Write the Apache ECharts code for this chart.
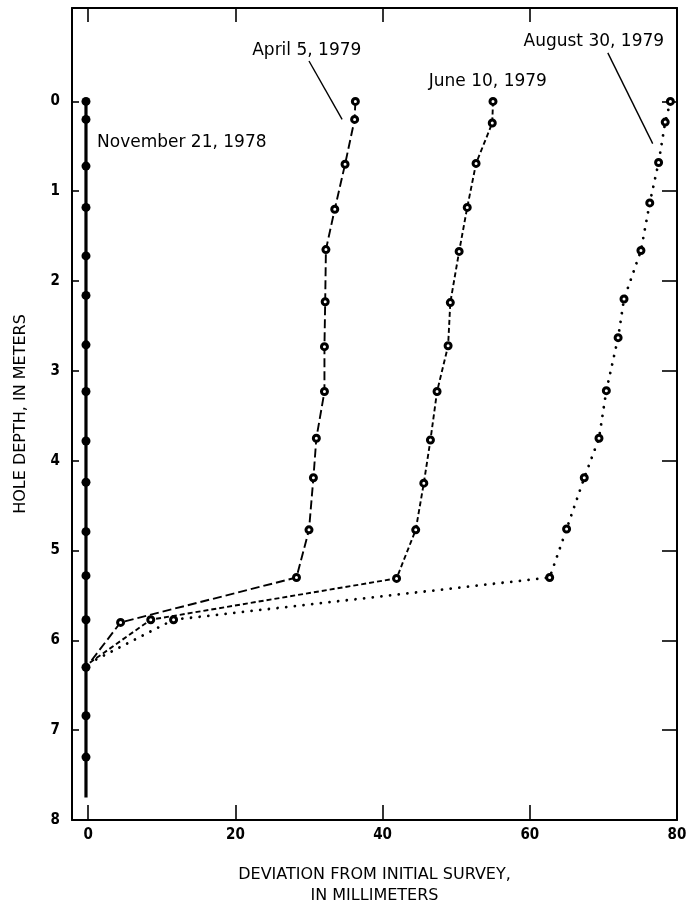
<!DOCTYPE html>
<html>
<head>
<meta charset="utf-8">
<script src="https://cdn.jsdelivr.net/npm/echarts@6.0.0/dist/echarts.min.js"></script>
<style>
html,body{margin:0;padding:0;background:#fff;}
#chart{width:700px;height:911px;}
</style>
</head>
<body>
<div id="chart"></div>
<script>
// ---- data (depth in metres, deviation in millimetres) ----
const xTicks = [0, 20, 40, 60, 80];
const xTopTicks = [0, 20, 40, 60];
const yTicks = [0, 1, 2, 3, 4, 5, 6, 7, 8];

const novDepth = [0, 0.2, 0.72, 1.18, 1.72, 2.16, 2.71, 3.23, 3.78, 4.24, 4.79, 5.28, 5.77, 6.3, 6.84, 7.3, 7.75];
const novDev   = [-0.3, -0.3, -0.3, -0.3, -0.3, -0.3, -0.3, -0.3, -0.3, -0.3, -0.3, -0.3, -0.3, -0.3, -0.3, -0.3, -0.3];

const aprDepth = [0, 0.2, 0.7, 1.2, 1.65, 2.23, 2.73, 3.23, 3.75, 4.19, 4.77, 5.3, 5.8, 6.25];
const aprDev   = [36.3, 36.2, 34.9, 33.5, 32.3, 32.2, 32.1, 32.1, 31.0, 30.6, 30.0, 28.3, 4.4, 0.2];

const junDepth = [0, 0.24, 0.69, 1.18, 1.67, 2.24, 2.72, 3.23, 3.77, 4.25, 4.77, 5.31, 5.77, 6.25];
const junDev   = [55.0, 54.9, 52.7, 51.5, 50.4, 49.2, 48.9, 47.4, 46.5, 45.6, 44.5, 41.9, 8.5, 0.2];

const augDepth = [0, 0.23, 0.68, 1.13, 1.66, 2.2, 2.63, 3.22, 3.75, 4.19, 4.76, 5.3, 5.77, 6.25];
const augDev   = [79.1, 78.4, 77.5, 76.3, 75.1, 72.8, 72.0, 70.4, 69.4, 67.4, 65.0, 62.7, 11.6, 0.2];

const labelNames = ['November 21, 1978', 'April 5, 1979', 'June 10, 1979', 'August 30, 1979'];
const labelDev   = [1.2, 29.7, 54.3, 68.7];
const labelDepth = [0.46, -0.57, -0.22, -0.67];

const aprLeaderDev = [30.0, 34.5];
const aprLeaderDepth = [-0.45, 0.2];
const augLeaderDev = [70.6, 76.7];
const augLeaderDepth = [-0.54, 0.47];

// ---- build ----
const zip = (xs, ys) => xs.map((x, i) => [x, ys[i]]);
const X_MIN = -2.2, X_MAX = 80, Y_MIN = -1.04, Y_MAX = 8;
const tickFont = '"Liberation Sans Narrow", "DejaVu Sans Condensed", sans-serif';
const textFont = '"DejaVu Sans", sans-serif';

const openMarker = {
  symbol: 'circle',
  itemStyle: { color: '#fff', borderColor: '#000', borderWidth: 3 }
};
const openSize = 6;

const chart = echarts.init(document.getElementById('chart'), null, { renderer: 'canvas' });
chart.setOption({
  animation: false,
  backgroundColor: '#fff',
  grid: { left: 72, right: 23, top: 8, bottom: 88, containLabel: false },
  xAxis: [
    {
      type: 'value', position: 'bottom', min: X_MIN, max: X_MAX,
      axisLine: { show: true, onZero: false, lineStyle: { color: '#000', width: 2 } },
      axisTick: { show: true, inside: true, length: 15, customValues: xTicks, lineStyle: { color: '#000', width: 1.6 } },
      axisLabel: { show: true, customValues: xTicks, margin: 8, color: '#000', fontFamily: tickFont, fontWeight: 'bold', fontSize: 15 },
      splitLine: { show: false },
      name: 'DEVIATION FROM INITIAL SURVEY,\nIN MILLIMETERS',
      nameLocation: 'middle', nameGap: 44,
      nameTextStyle: { color: '#000', fontFamily: textFont, fontSize: 16, lineHeight: 21, align: 'center', verticalAlign: 'top' }
    },
    {
      type: 'value', position: 'top', min: X_MIN, max: X_MAX,
      axisLine: { show: true, onZero: false, lineStyle: { color: '#000', width: 2 } },
      axisTick: { show: true, inside: true, length: 14, customValues: xTopTicks, lineStyle: { color: '#000', width: 1.6 } },
      axisLabel: { show: false },
      splitLine: { show: false }
    }
  ],
  yAxis: [
    {
      type: 'value', position: 'left', inverse: true, min: Y_MIN, max: Y_MAX,
      axisLine: { show: true, onZero: false, lineStyle: { color: '#000', width: 2 } },
      axisTick: { show: true, inside: true, length: 7, customValues: yTicks, lineStyle: { color: '#000', width: 1.6 } },
      axisLabel: { show: true, customValues: yTicks, margin: 12, color: '#000', fontFamily: tickFont, fontWeight: 'bold', fontSize: 15 },
      splitLine: { show: false },
      name: 'HOLE DEPTH, IN METERS',
      nameLocation: 'middle', nameGap: 43, nameRotate: 90,
      nameTextStyle: { color: '#000', fontFamily: textFont, fontSize: 16 }
    },
    {
      type: 'value', position: 'right', inverse: true, min: Y_MIN, max: Y_MAX,
      axisLine: { show: true, onZero: false, lineStyle: { color: '#000', width: 2 } },
      axisTick: { show: true, inside: true, length: 15, customValues: yTicks, lineStyle: { color: '#000', width: 1.6 } },
      axisLabel: { show: false },
      splitLine: { show: false }
    }
  ],
  series: [
    {
      name: 'August 30, 1979', type: 'line', data: zip(augDev, augDepth),
      ...openMarker,
      symbolSize: (v, p) => p.dataIndex === augDev.length - 1 ? 0 : openSize,
      lineStyle: { color: '#000', width: 2.8, type: [0.01, 8.7], cap: 'round' },
      z: 3
    },
    {
      name: 'June 10, 1979', type: 'line', data: zip(junDev, junDepth),
      ...openMarker,
      symbolSize: (v, p) => p.dataIndex === junDev.length - 1 ? 0 : openSize,
      lineStyle: { color: '#000', width: 1.9, type: [5, 3] },
      z: 3
    },
    {
      name: 'April 5, 1979', type: 'line', data: zip(aprDev, aprDepth),
      ...openMarker,
      symbolSize: (v, p) => p.dataIndex === aprDev.length - 1 ? 0 : openSize,
      lineStyle: { color: '#000', width: 1.9, type: [9, 4] },
      z: 3
    },
    {
      name: 'November 21, 1978', type: 'line', data: zip(novDev, novDepth),
      symbol: 'circle',
      symbolSize: (v, p) => p.dataIndex === novDev.length - 1 ? 0 : 9,
      itemStyle: { color: '#000' },
      lineStyle: { color: '#000', width: 3.2 },
      z: 4
    },
    {
      name: 'aprLeader', type: 'line', data: zip(aprLeaderDev, aprLeaderDepth),
      symbol: 'none', lineStyle: { color: '#000', width: 1.4 }, silent: true
    },
    {
      name: 'augLeader', type: 'line', data: zip(augLeaderDev, augLeaderDepth),
      symbol: 'none', lineStyle: { color: '#000', width: 1.4 }, silent: true
    },
    {
      name: 'labels', type: 'scatter', symbolSize: 0, silent: true,
      itemStyle: { color: '#000', opacity: 1 },
      data: labelNames.map((n, i) => ({
        value: [labelDev[i], labelDepth[i]], name: n,
        label: { align: i === 0 ? 'left' : 'center', color: '#000' }
      })),
      label: {
        show: true, position: [0, 0], formatter: p => p.name,
        color: '#000', opacity: 1, textBorderWidth: 0, textShadowBlur: 0,
        fontFamily: textFont, fontSize: 17, verticalAlign: 'middle'
      },
      z: 5
    }
  ]
});
</script>
</body>
</html>
